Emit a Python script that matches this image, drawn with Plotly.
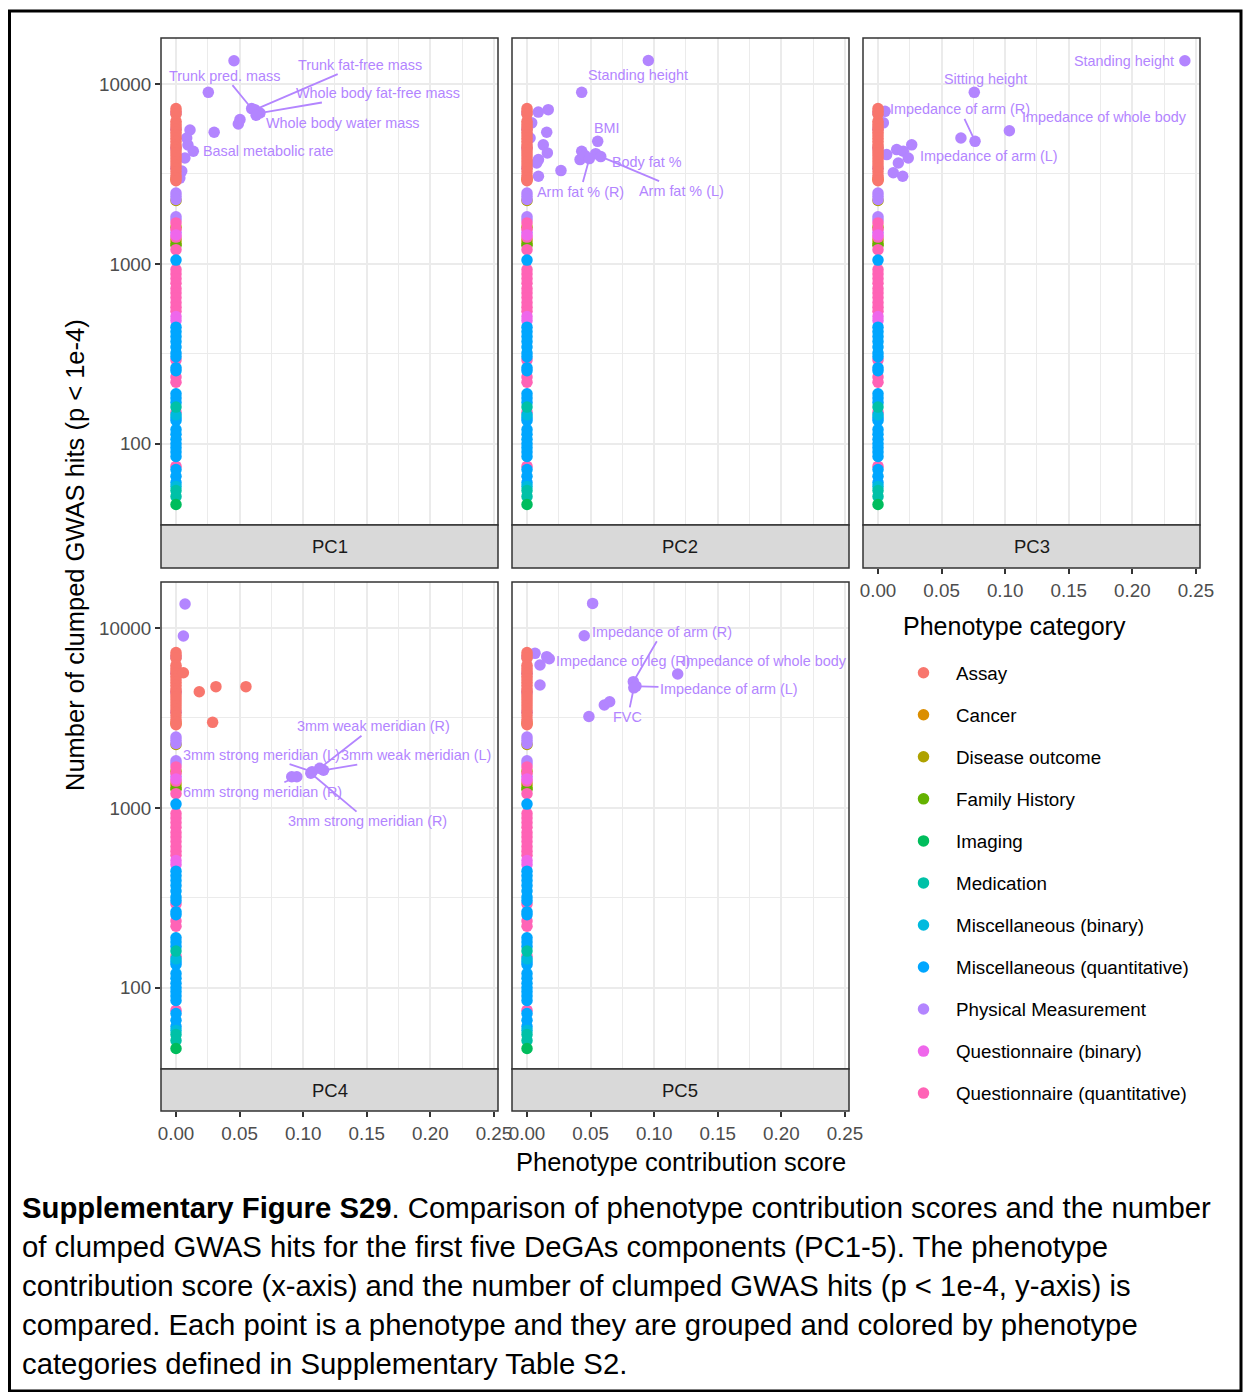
import math
import plotly.graph_objects as go

W, H = 1244, 1392
FONT = "Liberation Sans, Arial, Helvetica, sans-serif"

# ---------------- data ----------------
CATEGORIES = ["Assay", "Cancer", "Disease outcome", "Family History", "Imaging", "Medication",
              "Miscellaneous (binary)", "Miscellaneous (quantitative)", "Physical Measurement",
              "Questionnaire (binary)", "Questionnaire (quantitative)"]
PANELS = ["PC1", "PC2", "PC3", "PC4", "PC5"]
X_TICKS = [0.0, 0.05, 0.10, 0.15, 0.20, 0.25]
X_TICK_LABELS = ["0.00", "0.05", "0.10", "0.15", "0.20", "0.25"]
Y_TICKS = [100, 1000, 10000]
Y_TICK_LABELS = ["100", "1000", "10000"]

# number of clumped hits for phenotypes with ~zero contribution (same in every component)
COL_ASSAY = [7300, 7050, 6800, 6200, 6000, 5800, 5600, 5400, 5200, 5000, 4800, 4600, 4450, 4300,
             4150, 4000, 3850, 3700, 3550, 3400, 3250, 3100, 3000, 2900]
COL_CANCER = [2950]
COL_DISEASE = [2250, 1600, 1360, 1300]
COL_FAMILY = [1270]
COL_IMAGING = [46]
COL_MEDICATION = [160, 55, 51]
COL_MISC_BIN = [145, 58]
COL_MISC_QUANT = [1050, 445, 420, 395, 370, 345, 320, 305, 265, 255, 190, 180, 170, 140, 135, 120,
                  113, 106, 100, 95, 90, 85, 72, 66, 61]
COL_PHYS = [6900, 5600, 4400, 3400, 2480, 2380, 2280, 1830, 1760, 1500]
COL_Q_BIN = [1450, 510, 485]
COL_Q_QUANT = [1690, 1560, 1410, 1200, 930, 880, 830, 780, 730, 690, 650, 610, 575, 545, 292, 235,
               220, 150, 75]

# physical measurements with non-zero contribution, per component
PC1_X = [0.0456, 0.0254, 0.0595, 0.062, 0.066, 0.063, 0.0503, 0.049, 0.030, 0.011, 0.0084, 0.0094,
         0.0136, 0.007, 0.0045, 0.003]
PC1_Y = [13470, 8990, 7300, 7200, 6900, 6700, 6340, 5990, 5390, 5550, 5010, 4580, 4230, 3880, 3280, 3000]
PC1_LABEL = ["", "", "Trunk pred. mass", "Trunk fat-free mass", "Whole body fat-free mass",
             "Whole body water mass", "", "", "", "", "", "", "Basal metabolic rate", "", "", ""]

PC2_X = [0.0954, 0.043, 0.0089, 0.0167, 0.0037, 0.0155, 0.0024, 0.0128, 0.016, 0.009, 0.0076, 0.009,
         0.0267, 0.0556, 0.043, 0.0417, 0.0456, 0.054, 0.049, 0.058]
PC2_Y = [13500, 8990, 6980, 7200, 6080, 5390, 5010, 4590, 4140, 3800, 3640, 3070, 3300, 4800, 4230,
         3800, 4000, 4100, 3850, 3950]
PC2_LABEL = ["Standing height", "", "", "", "", "", "", "", "", "", "", "", "", "BMI", "", "", "",
             "Body fat %", "Arm fat % (R)", "Arm fat % (L)"]

PC3_X = [0.2413, 0.0757, 0.0763, 0.0652, 0.1033, 0.0055, 0.0042, 0.0265, 0.0147, 0.0199, 0.0238,
         0.0068, 0.016, 0.012, 0.0194]
PC3_Y = [13470, 8990, 4800, 5010, 5500, 7050, 6080, 4590, 4320, 4230, 3880, 4050, 3640, 3210, 3070]
PC3_LABEL = ["Standing height", "Sitting height", "Impedance of arm (R)", "Impedance of arm (L)",
             "Impedance of whole body", "", "", "", "", "", "", "", "", "", ""]

PC4_X = [0.0071, 0.0058, 0.113, 0.116, 0.107, 0.095, 0.106, 0.091]
PC4_Y = [13600, 9030, 1660, 1620, 1590, 1490, 1560, 1490]
PC4_LABEL = ["", "", "3mm weak meridian (R)", "3mm weak meridian (L)", "3mm strong meridian (L)",
             "6mm strong meridian (R)", "3mm strong meridian (R)", ""]
PC4_ASSAY_X = [0.0058, 0.0183, 0.0314, 0.055, 0.0288]
PC4_ASSAY_Y = [5640, 4420, 4720, 4720, 2990]

PC5_X = [0.0516, 0.045, 0.0063, 0.0155, 0.0175, 0.0102, 0.0102, 0.0836, 0.0857, 0.084, 0.1185,
         0.0608, 0.065, 0.0487]
PC5_Y = [13700, 9060, 7230, 6930, 6750, 6230, 4820, 5030, 4750, 4650, 5550, 3730, 3890, 3220]
PC5_LABEL = ["", "", "", "", "Impedance of leg (R)", "", "", "Impedance of arm (R)",
             "Impedance of arm (L)", "FVC", "Impedance of whole body", "", "", ""]

CAPTION_LINES = [
    "<b>Supplementary Figure S29</b>. Comparison of phenotype contribution scores and the number",
    "of clumped GWAS hits for the first five DeGAs components (PC1-5). The phenotype",
    "contribution score (x-axis) and the number of clumped GWAS hits (p < 1e-4, y-axis) is",
    "compared. Each point is a phenotype and they are grouped and colored by phenotype",
    "categories defined in Supplementary Table S2.",
]

# ---------------- styling ----------------
COLORS = {
    "Assay": "#F8766D", "Cancer": "#DB8E00", "Disease outcome": "#AEA200", "Family History": "#64B200",
    "Imaging": "#00BD5C", "Medication": "#00C1A7", "Miscellaneous (binary)": "#00BADE",
    "Miscellaneous (quantitative)": "#00A6FF", "Physical Measurement": "#B385FF",
    "Questionnaire (binary)": "#EF67EB", "Questionnaire (quantitative)": "#FF63B6",
}
COLUMN = {
    "Assay": COL_ASSAY, "Cancer": COL_CANCER, "Disease outcome": COL_DISEASE, "Family History": COL_FAMILY,
    "Imaging": COL_IMAGING, "Medication": COL_MEDICATION, "Miscellaneous (binary)": COL_MISC_BIN,
    "Miscellaneous (quantitative)": COL_MISC_QUANT, "Physical Measurement": COL_PHYS,
    "Questionnaire (binary)": COL_Q_BIN, "Questionnaire (quantitative)": COL_Q_QUANT,
}
PHYS = {
    "PC1": (PC1_X, PC1_Y, PC1_LABEL), "PC2": (PC2_X, PC2_Y, PC2_LABEL), "PC3": (PC3_X, PC3_Y, PC3_LABEL),
    "PC4": (PC4_X, PC4_Y, PC4_LABEL), "PC5": (PC5_X, PC5_Y, PC5_LABEL),
}
EXTRA_ASSAY = {"PC4": (PC4_ASSAY_X, PC4_ASSAY_Y)}

# label placement (pixel offsets from the point)
LABEL_POS = {
    ("PC1", "Trunk pred. mass"): dict(ax=-27, ay=-33),
    ("PC1", "Trunk fat-free mass"): dict(ax=105, ay=-45),
    ("PC1", "Whole body fat-free mass"): dict(ax=118, ay=-20),
    ("PC1", "Whole body water mass"): dict(ax=87, ay=8),
    ("PC1", "Basal metabolic rate"): dict(xshift=8, yshift=0, xanchor="left"),
    ("PC2", "Standing height"): dict(xshift=-10, yshift=-14.5, xanchor="center"),
    ("PC2", "BMI"): dict(xshift=9, yshift=13, xanchor="center"),
    ("PC2", "Body fat %"): dict(xshift=14, yshift=-8, xanchor="left"),
    ("PC2", "Arm fat % (R)"): dict(ax=-9, ay=33),
    ("PC2", "Arm fat % (L)"): dict(ax=81, ay=34),
    ("PC3", "Standing height"): dict(xshift=-9, yshift=0, xanchor="right"),
    ("PC3", "Sitting height"): dict(xshift=11, yshift=13, xanchor="center"),
    ("PC3", "Impedance of arm (R)"): dict(ax=-15, ay=-32),
    ("PC3", "Impedance of arm (L)"): dict(xshift=28, yshift=-18, xanchor="center"),
    ("PC3", "Impedance of whole body"): dict(xshift=10.6, yshift=13.7, xanchor="left"),
    ("PC4", "3mm weak meridian (R)"): dict(ax=54, ay=-42),
    ("PC4", "3mm weak meridian (L)"): dict(ax=92, ay=-15),
    ("PC4", "3mm strong meridian (L)"): dict(ax=-51, ay=-17),
    ("PC4", "6mm strong meridian (R)"): dict(ax=-34, ay=15),
    ("PC4", "3mm strong meridian (R)"): dict(ax=57, ay=48),
    ("PC5", "Impedance of arm (R)"): dict(ax=29, ay=-50),
    ("PC5", "Impedance of leg (R)"): dict(xshift=5, yshift=-2, xanchor="left"),
    ("PC5", "Impedance of whole body"): dict(xshift=2, yshift=13, xanchor="left"),
    ("PC5", "Impedance of arm (L)"): dict(ax=93, ay=3),
    ("PC5", "FVC"): dict(ax=-6, ay=29),
}

# panel geometry (pixels)
XL = [161, 512, 863]
XR = [498, 849, 1200]
YT = [38, 582]
YB = [525, 1069]
STRIP_B = [568, 1111]
X_RANGE = [-0.0118, 0.2532]
Y_RANGE = [1.549, 4.2556]
MARKER = 11.5
GRID = "#EBEBEB"
DARK = "#333333"


def px(x):
    return x / W


def py(y):
    return 1 - y / H


fig = go.Figure()
annotations = []
shapes = []

DRAW_ORDER = ["Disease outcome", "Family History", "Cancer", "Physical Measurement",
              "Questionnaire (quantitative)", "Questionnaire (binary)",
              "Miscellaneous (quantitative)", "Miscellaneous (binary)", "Medication", "Imaging",
              "Assay"]

for i, pc in enumerate(PANELS):
    col, row = i % 3, i // 3
    xa = "x" if i == 0 else f"x{i + 1}"
    ya = "y" if i == 0 else f"y{i + 1}"
    for cat in DRAW_ORDER:
        ys = list(COLUMN[cat])
        xs = [0.0] * len(ys)
        if cat == "Physical Measurement":
            xs = xs + list(PHYS[pc][0])
            ys = ys + list(PHYS[pc][1])
        if cat == "Assay" and pc in EXTRA_ASSAY:
            xs = xs + list(EXTRA_ASSAY[pc][0])
            ys = ys + list(EXTRA_ASSAY[pc][1])
        fig.add_trace(go.Scatter(
            x=xs, y=ys, mode="markers", xaxis=xa, yaxis=ya, name=cat,
            legendgroup=cat, legendrank=CATEGORIES.index(cat) + 1, showlegend=(i == 0),
            marker=dict(color=COLORS[cat], size=MARKER, line=dict(width=0)),
            hoverinfo="skip"))

    # labels
    for x, y, lab in zip(*PHYS[pc]):
        if not lab:
            continue
        pos = LABEL_POS[(pc, lab)]
        ann = dict(x=x, y=math.log10(y), xref=xa, yref=ya, text=lab,
                   font=dict(family=FONT, size=14.4, color=COLORS["Physical Measurement"]))
        if "ax" in pos:
            ann.update(showarrow=True, ax=pos["ax"], ay=pos["ay"], arrowhead=0, arrowwidth=1.8,
                       arrowcolor=COLORS["Physical Measurement"], standoff=4)
        else:
            ann.update(showarrow=False, xshift=pos["xshift"], yshift=pos["yshift"],
                       xanchor=pos["xanchor"], yanchor="middle")
        annotations.append(ann)

    show_x = (row == 1) or (i == 2)
    show_y = col == 0
    tickfont = dict(family=FONT, size=18.8, color="#4D4D4D")
    fig.layout[("xaxis" if i == 0 else f"xaxis{i + 1}")] = dict(
        domain=[px(XL[col]), px(XR[col])], range=X_RANGE, anchor="free", automargin=False,
        position=py(STRIP_B[row]), tickmode="array", tickvals=X_TICKS, ticktext=X_TICK_LABELS,
        showticklabels=show_x, ticks="outside" if show_x else "", ticklen=5, tickwidth=1.5,
        tickcolor=DARK, tickfont=tickfont, showgrid=True, gridcolor=GRID, gridwidth=2,
        minor=dict(tickmode="linear", tick0=0, dtick=0.025, showgrid=True, gridcolor=GRID,
                   gridwidth=1.3, ticks=""),
        zeroline=False, showline=False, fixedrange=True)
    fig.layout[("yaxis" if i == 0 else f"yaxis{i + 1}")] = dict(
        domain=[py(YB[row]), py(YT[row])], type="log", range=Y_RANGE, anchor=xa, automargin=False,
        tickmode="array", tickvals=Y_TICKS, ticktext=Y_TICK_LABELS,
        showticklabels=show_y, ticks="outside" if show_y else "", ticklen=5, tickwidth=1.5,
        tickcolor=DARK, tickfont=tickfont, showgrid=True, gridcolor=GRID, gridwidth=2,
        minor=dict(tickmode="array", tickvals=[10 ** 2.5, 10 ** 3.5], showgrid=True,
                   gridcolor=GRID, gridwidth=1.3, ticks=""),
        zeroline=False, showline=False, fixedrange=True)

    # panel border and strip
    shapes.append(dict(type="rect", xref="paper", yref="paper", x0=px(XL[col]), x1=px(XR[col]),
                       y0=py(YB[row]), y1=py(YT[row]), line=dict(color=DARK, width=1.5),
                       fillcolor="rgba(0,0,0,0)", layer="above"))
    shapes.append(dict(type="rect", xref="paper", yref="paper", x0=px(XL[col]), x1=px(XR[col]),
                       y0=py(STRIP_B[row]), y1=py(YB[row]), line=dict(color=DARK, width=1.5),
                       fillcolor="#D9D9D9", layer="above"))
    annotations.append(dict(x=px((XL[col] + XR[col]) / 2), y=py((YB[row] + STRIP_B[row]) / 2),
                            xref="paper", yref="paper", text=pc, showarrow=False,
                            font=dict(family=FONT, size=18.5, color="#1A1A1A"),
                            xanchor="center", yanchor="middle"))

# axis titles
annotations.append(dict(x=px(75), y=py(555), xref="paper", yref="paper", showarrow=False,
                        text="Number of clumped GWAS hits (p < 1e-4)", textangle=-90,
                        font=dict(family=FONT, size=25.5, color="black"),
                        xanchor="center", yanchor="middle"))
annotations.append(dict(x=px(681), y=py(1162), xref="paper", yref="paper", showarrow=False,
                        text="Phenotype contribution score",
                        font=dict(family=FONT, size=25.5, color="black"),
                        xanchor="center", yanchor="middle"))
# legend title
annotations.append(dict(x=px(901), y=py(626), xref="paper", yref="paper", showarrow=False,
                        text="Phenotype category",
                        font=dict(family=FONT, size=25, color="black"),
                        xanchor="left", yanchor="middle"))

# caption
for k, line in enumerate(CAPTION_LINES):
    annotations.append(dict(x=px(20), y=py(1207 + k * 39), xref="paper", yref="paper",
                            showarrow=False, text=line, xanchor="left", yanchor="middle",
                            font=dict(family=FONT, size=29.3, color="black")))

# outer frame
shapes.append(dict(type="rect", xref="paper", yref="paper", x0=px(9.5), x1=px(1241),
                   y0=py(1391), y1=py(11), line=dict(color="black", width=3),
                   fillcolor="rgba(0,0,0,0)", layer="above"))

fig.update_layout(
    width=W, height=H, autosize=False,
    margin=dict(l=0, r=0, t=0, b=0, pad=0, autoexpand=False),
    paper_bgcolor="white", plot_bgcolor="white",
    annotations=annotations, shapes=shapes,
    showlegend=True,
    legend=dict(x=px(891), y=py(654), xanchor="left", yanchor="top",
                font=dict(family=FONT, size=18.8, color="black"), tracegroupgap=14.6,
                bgcolor="rgba(0,0,0,0)", itemwidth=55),
    font=dict(family=FONT),
)

fig.write_html("out.html", config={"responsive": False, "displayModeBar": False},
               post_script="document.body.style.margin='0';document.body.style.overflow='hidden';")
